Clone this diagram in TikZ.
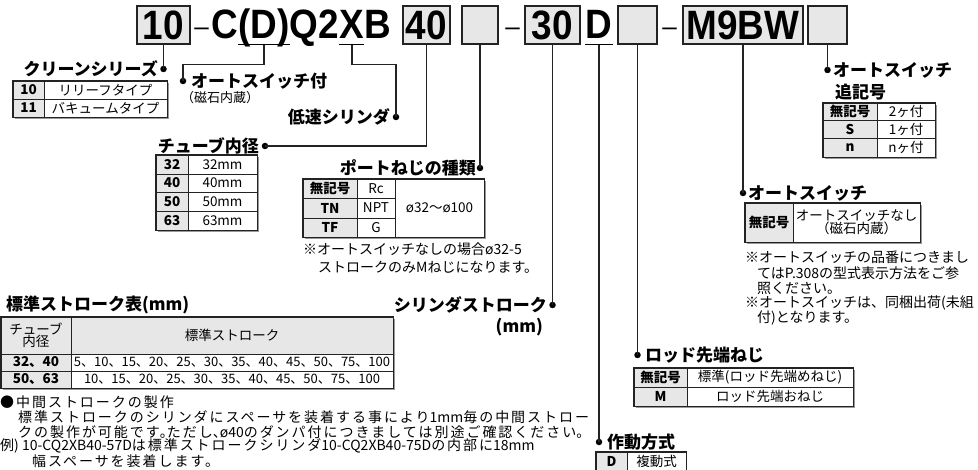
\documentclass[tikz,border=0pt]{standalone}
\usepackage{fontspec}
\setmainfont{Noto Sans CJK JP}
\newfontfamily\codefont{Liberation Sans}[FakeStretch=0.9]
\newfontfamily\dashfont{Liberation Sans}
\newfontfamily\notejp{Noto Sans CJK JP}[LetterSpace=14]
\newfontfamily\notehp{Noto Sans CJK JP}[RawFeature=+halt]
\newfontfamily\notelat{Noto Sans CJK JP}
\newcommand\hp[1]{{\notehp #1}}
\newcommand\lat[1]{{\notelat #1}}
\definecolor{gfill}{RGB}{231,231,231}
\definecolor{lc}{RGB}{35,35,35}
\newcommand\mycell[7]{\node[#6, minimum width={#4-#2}, minimum height={#5-#3}] (#1) at ({(#2+#4)/2},{(#3+#5)/2}) {#7};}
\newcommand\tshad[3]{\draw[tshadow] ([xshift=2pt,yshift=-1.4pt]#1.south west) -- ([xshift=1.4pt,yshift=-1.4pt]#2.south east) -- ([xshift=1.4pt,yshift=-2pt]#3.north east);}
\begin{document}
\begin{tikzpicture}[x=1pt,y=-1pt,
  code/.style={font={\codefont\fontsize{41}{42}\selectfont\bfseries}, inner sep=0},
  cbox/.style={code, draw=lc, line width=1.3pt, fill=gfill, minimum height=38pt},
  dashtxt/.style={font={\dashfont\fontsize{26}{28}\selectfont}, inner sep=0},
  uline/.style={line width=1.5pt},
  lead/.style={line width=1.5pt, draw=lc},
  dot/.style={circle, fill=black, inner sep=0, minimum size=6.5pt},
  lbl/.style={font={\fontsize{17}{19}\selectfont\bfseries}, inner sep=0},
  cellt/.style={font={\fontsize{13.5}{15}\selectfont}, inner sep=0, align=center},
  cellb/.style={font={\fontsize{13.5}{15}\selectfont\bfseries}, inner sep=0, align=center},
  rowt/.style={font={\fontsize{13}{15}\selectfont}, inner sep=0, align=center},
  gcell/.style={draw=lc, line width=0.8pt, fill=gfill},
  wcell/.style={draw=lc, line width=0.8pt, fill=white},
  tborder/.style={draw=lc, line width=1.3pt},
  tshadow/.style={draw=black!40, line width=1.2pt},
  note/.style={font={\fontsize{14}{16}\selectfont}, inner sep=0, anchor=west},
  lnote/.style={font={\notejp\fontsize{14}{15}\selectfont}, inner sep=0, anchor=west},
  snote/.style={font={\fontsize{13}{15}\selectfont}, inner sep=0, anchor=west}]
\useasboundingbox (0,0) rectangle (978,470);
\fill[white] (0,0) rectangle (978,470);

% ---------- code row ----------
\node[cbox, minimum width=53pt] (b10) at (163.5,25) {10};
\node[dashtxt] (h1) at (201.5,32) {–};
\node[code, anchor=base west] (cC) at (211,39) {C};
\node[code, anchor=base west] (cD) at (cC.base east) {(D)};
\node[code, anchor=base west] (cQ) at (cD.base east) {Q2};
\node[code, anchor=base west] (cX) at (cQ.base east) {X};
\node[code, anchor=base west] (cB) at (cX.base east) {B};
\node[cbox, minimum width=47pt] (b40) at (426.5,25) {40};
\node[cbox, minimum width=36pt] (bE1) at (480,25) {};
\node[dashtxt] (h2) at (512.5,32) {–};
\node[cbox, minimum width=55pt] (b30) at (552.5,25) {30};
\node[code, anchor=base] (cD2) at (599,39) {D};
\node[cbox, minimum width=39pt] (bE2) at (637.5,25) {};
\node[dashtxt] (h3) at (669.5,32) {–};
\node[cbox, minimum width=120pt] (bM) at (743,25) {M9BW};
\node[cbox, minimum width=39pt] (bE3) at (827.5,25) {};
\draw[uline] (cD.west |- b10.south) -- (cD.east |- b10.south);
\draw[uline] (cX.west |- b10.south) -- (cX.east |- b10.south);
\draw[uline] (cD2.west |- b10.south) -- (cD2.east |- b10.south);

% ---------- dots ----------
\node[dot] (d1) at (163.5,69) {};
\node[dot] (d2) at (183,81) {};
\node[dot] (d3) at (396,117) {};
\node[dot] (d4) at (265,146) {};
\node[dot] (d5) at (480,168) {};
\node[dot] (d6) at (552.5,305) {};
\node[dot] (d7) at (599,442) {};
\node[dot] (d8) at (637.5,355) {};
\node[dot] (d9) at (743,193) {};
\node[dot] (d10) at (827.5,70) {};

% ---------- leaders ----------
\draw[lead] (b10.south) -- (d1.center);
\draw[lead] (cD.south |- b10.south) -- ++(0,20) -| (d2.center);
\draw[lead] (cX.south |- b10.south) -- ++(0,20) -| (d3.center);
\draw[lead] (b40.south) |- (d4.center);
\draw[lead] (bE1.south) -- (d5.center);
\draw[lead] (b30.south) -- (d6.center);
\draw[lead] (cD2.south |- b10.south) -- (d7.center);
\draw[lead] (bE2.south) -- (d8.center);
\draw[lead] (bM.south) -- (d9.center);
\draw[lead] (bE3.south) -- (d10.center);

% ---------- クリーンシリーズ ----------
\node[lbl, anchor=east] (tA) at (158,69) {クリーンシリーズ};
\mycell{a11}{13}{81}{44}{99}{gcell,cellb}{10}
\mycell{a12}{44}{81}{167}{99}{wcell,cellt}{リリーフタイプ}
\mycell{a21}{13}{99}{44}{117}{gcell,cellb}{11}
\mycell{a22}{44}{99}{167}{117}{wcell,cellt}{バキュームタイプ}
\tshad{a21}{a22}{a12}
\draw[tborder] (a11.north west) rectangle (a22.south east);

% ---------- オートスイッチ付 ----------
\node[lbl, anchor=west] (tB) at (191,81) {オートスイッチ付};
\node[snote] (tB2) at (181,98) {（磁石内蔵）};

% ---------- 低速シリンダ ----------
\node[lbl, anchor=east] (tC) at (390,117) {低速シリンダ};

% ---------- チューブ内径 ----------
\node[lbl, anchor=east] (tD) at (259,146) {チューブ内径};
\mycell{b11}{156}{155}{188}{174}{gcell,cellb}{32}
\mycell{b12}{188}{155}{257}{174}{wcell,cellt}{32mm}
\mycell{b21}{156}{174}{188}{192}{gcell,cellb}{40}
\mycell{b22}{188}{174}{257}{192}{wcell,cellt}{40mm}
\mycell{b31}{156}{192}{188}{211}{gcell,cellb}{50}
\mycell{b32}{188}{192}{257}{211}{wcell,cellt}{50mm}
\mycell{b41}{156}{211}{188}{230}{gcell,cellb}{63}
\mycell{b42}{188}{211}{257}{230}{wcell,cellt}{63mm}
\tshad{b41}{b42}{b12}
\draw[tborder] (b11.north west) rectangle (b42.south east);

% ---------- ポートねじの種類 ----------
\node[lbl, anchor=east] (tE) at (476,168) {ポートねじの種類};
\mycell{c11}{303}{179}{357}{198}{gcell,cellb}{無記号}
\mycell{c12}{357}{179}{395}{198}{wcell,cellt}{Rc}
\mycell{c21}{303}{198}{357}{218}{gcell,cellb}{TN}
\mycell{c22}{357}{198}{395}{218}{wcell,cellt}{NPT}
\mycell{c31}{303}{218}{357}{237}{gcell,cellb}{TF}
\mycell{c32}{357}{218}{395}{237}{wcell,cellt}{G}
\mycell{c13}{395}{179}{484}{237}{wcell,cellt}{ø32～ø100}
\tshad{c31}{c13}{c13}
\draw[tborder] (c11.north west) rectangle (c13.south east);
\node[note] (nC1) at (303,249) {※オートスイッチなしの場合ø32-5};
\node[note] (nC2) at (318,267) {ストロークのみMねじになります。};

% ---------- オートスイッチ追記号 ----------
\node[lbl, anchor=west] (tF) at (833,70) {オートスイッチ};
\node[lbl, anchor=west] (tF2) at (835,92) {追記号};
\mycell{e11}{823}{103}{877}{120}{gcell,cellb}{無記号}
\mycell{e12}{877}{103}{935}{120}{wcell,cellt}{2ヶ付}
\mycell{e21}{823}{120}{877}{138}{gcell,cellb}{S}
\mycell{e22}{877}{120}{935}{138}{wcell,cellt}{1ヶ付}
\mycell{e31}{823}{138}{877}{157}{gcell,cellb}{n}
\mycell{e32}{877}{138}{935}{157}{wcell,cellt}{nヶ付}
\tshad{e31}{e32}{e12}
\draw[tborder] (e11.north west) rectangle (e32.south east);

% ---------- オートスイッチ ----------
\node[lbl, anchor=west] (tG) at (748,193) {オートスイッチ};
\mycell{f11}{745}{203}{793}{242}{gcell,cellb}{無記号}
\mycell{f12}{793}{203}{920}{242}{wcell,cellt}{オートスイッチなし\\[-2pt]（磁石内蔵）}
\tshad{f11}{f12}{f12}
\draw[tborder] (f11.north west) rectangle (f12.south east);
\node[note] (nG1) at (745,257) {※オートスイッチの品番につきまし};
\node[note] (nG2) at (757,273) {てはP.308の型式表示方法をご参};
\node[note] (nG3) at (757,288) {照ください。};
\node[note] (nG4) at (745,303) {※オートスイッチは、同梱出荷(未組};
\node[note] (nG5) at (757,318) {付)となります。};

% ---------- シリンダストローク ----------
\node[lbl, anchor=east] (tH) at (547,305) {シリンダストローク};
\node[lbl, anchor=east] (tH2) at (543,327) {(mm)};

% ---------- 標準ストローク表 ----------
\node[lbl, anchor=west] (tI) at (6,305) {標準ストローク表(mm)};
\mycell{g11}{1}{317}{71}{354}{gcell,cellt}{チューブ\\[-3pt]内径}
\mycell{g12}{71}{317}{393}{354}{gcell,cellt}{標準ストローク}
\mycell{g21}{1}{354}{71}{371}{gcell,cellb}{32、40}
\mycell{g22}{71}{354}{393}{371}{wcell,rowt}{5、10、15、20、25、30、35、40、45、50、75、100}
\mycell{g31}{1}{371}{71}{388}{gcell,cellb}{50、63}
\mycell{g32}{71}{371}{393}{388}{wcell,rowt}{10、15、20、25、30、35、40、45、50、75、100}
\tshad{g31}{g32}{g12}
\draw[tborder] (g11.north west) rectangle (g32.south east);
\node[lnote] (nI1) at (0,402) {●中間ストロークの製作};
\node[lnote] (nI2) at (18,417) {標準ストロークのシリンダにスペーサを装着する事により\lat{1mm}毎の中間ストロー};
\node[lnote] (nI3) at (18,432) {クの製作が可能です\hp{。}ただし\hp{、}\lat{ø40}のダンパ付につきましては別途ご確認ください\hp{。}};
\node[lnote] (nI4) at (0,446) {例\lat{) 10-CQ2XB40-57D}は標準ストロークシリンダ\lat{10-CQ2XB40-75D}の内部に\lat{18mm}};
\node[lnote] (nI5) at (32,461) {幅スペーサを装着します。};

% ---------- ロッド先端ねじ ----------
\node[lbl, anchor=west] (tJ) at (645,355) {ロッド先端ねじ};
\mycell{h11}{634}{368}{687}{387}{gcell,cellb}{無記号}
\mycell{h12}{687}{368}{853}{387}{wcell,cellt}{標準(ロッド先端めねじ)}
\mycell{h21}{634}{387}{687}{406}{gcell,cellb}{M}
\mycell{h22}{687}{387}{853}{406}{wcell,cellt}{ロッド先端おねじ}
\tshad{h21}{h22}{h12}
\draw[tborder] (h11.north west) rectangle (h22.south east);

% ---------- 作動方式 ----------
\node[lbl, anchor=west] (tK) at (607,442) {作動方式};
\mycell{k11}{596}{452}{627}{470}{gcell,cellb}{D}
\mycell{k12}{627}{452}{686}{470}{wcell,cellt}{複動式}
\draw[tborder] (k11.north west) rectangle (k12.south east);
\end{tikzpicture}
\end{document}
